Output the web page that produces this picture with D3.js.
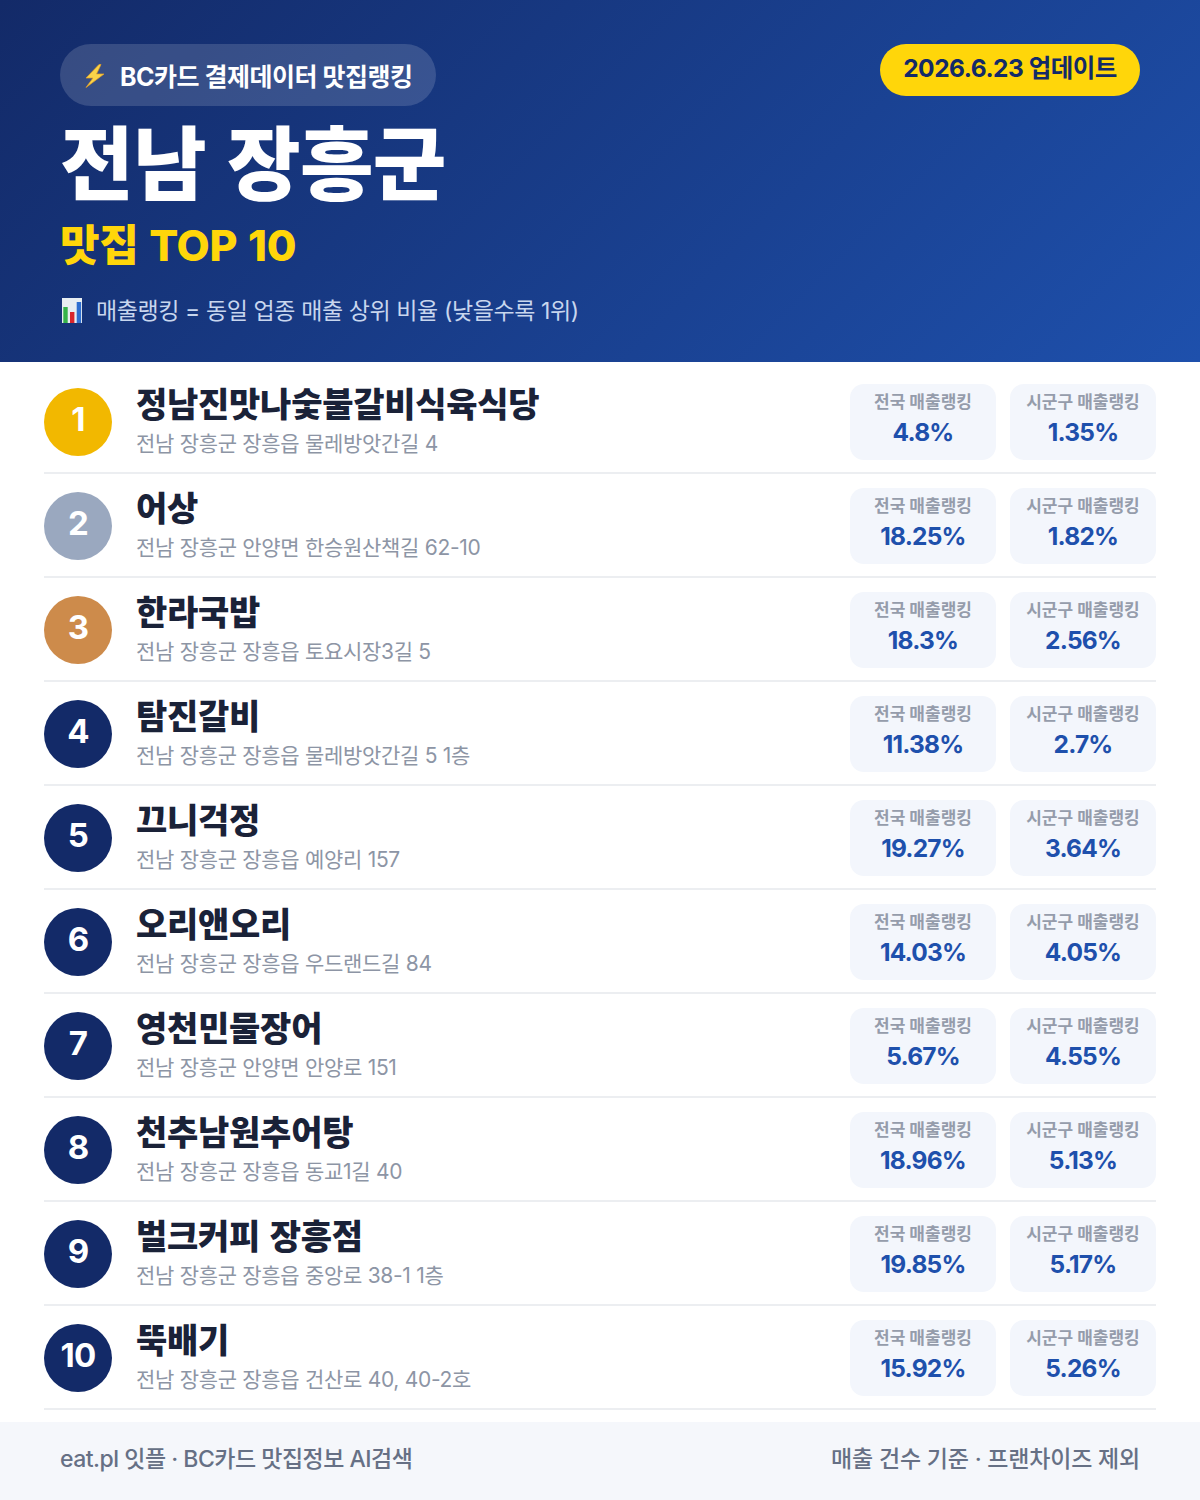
<!DOCTYPE html>
<html lang="ko">
<head>
<meta charset="utf-8">
<style>
html, body { margin: 0; padding: 0; background: #fff; }
svg { display: block; }
text { font-family: Inter, "Noto Sans CJK KR", sans-serif; }
</style>
<script src="https://cdn.jsdelivr.net/npm/d3@7"></script>
</head>
<body>
<svg width="1200" height="1500"></svg>
<script>
var ranks = [1, 2, 3, 4, 5, 6, 7, 8, 9, 10];
var names = ["정남진맛나숯불갈비식육식당", "어상", "한라국밥", "탐진갈비", "끄니걱정", "오리앤오리", "영천민물장어", "천추남원추어탕", "벌크커피 장흥점", "뚝배기"];
var addresses = [
  "전남 장흥군 장흥읍 물레방앗간길 4",
  "전남 장흥군 안양면 한승원산책길 62-10",
  "전남 장흥군 장흥읍 토요시장3길 5",
  "전남 장흥군 장흥읍 물레방앗간길 5 1층",
  "전남 장흥군 장흥읍 예양리 157",
  "전남 장흥군 장흥읍 우드랜드길 84",
  "전남 장흥군 안양면 안양로 151",
  "전남 장흥군 장흥읍 동교1길 40",
  "전남 장흥군 장흥읍 중앙로 38-1 1층",
  "전남 장흥군 장흥읍 건산로 40, 40-2호"
];
var national = [4.8, 18.25, 18.3, 11.38, 19.27, 14.03, 5.67, 18.96, 19.85, 15.92];
var local = [1.35, 1.82, 2.56, 2.7, 3.64, 4.05, 4.55, 5.13, 5.17, 5.26];
var cardLabels = ["전국 매출랭킹", "시군구 매출랭킹"];

var svg = d3.select("svg");

var defs = svg.append("defs");
var grad = defs.append("linearGradient")
  .attr("id", "head")
  .attr("gradientUnits", "userSpaceOnUse")
  .attr("x1", 210).attr("y1", -209)
  .attr("x2", 990).attr("y2", 571);
grad.append("stop").attr("offset", "0%").attr("stop-color", "#132a68");
grad.append("stop").attr("offset", "100%").attr("stop-color", "#1e50ac");

svg.append("rect").attr("width", 1200).attr("height", 362).attr("fill", "url(#head)");

// pill
svg.append("rect")
  .attr("x", 60).attr("y", 44).attr("width", 376).attr("height", 62).attr("rx", 31)
  .attr("fill", "#ffffff").attr("fill-opacity", 0.15);

// lightning icon
svg.append("path")
  .attr("d", "M99,64.5 L86,78 L93,78 L86,87.5 L104,74 L96.5,74 L101,64.5 Z")
  .attr("fill", "#f8d34a").attr("stroke", "#e8a020").attr("stroke-width", 0.7);

function label(x, y, str, size, weight, color, anchor, spacing) {
  return svg.append("text")
    .attr("x", x).attr("y", y)
    .attr("font-size", size)
    .attr("font-weight", weight)
    .attr("fill", color)
    .attr("text-anchor", anchor || "start")
    .attr("letter-spacing", spacing || 0)
    .text(str);
}

label(120, 86, "BC카드 결제데이터 맛집랭킹", 25, 700, "#ffffff", "start", -0.5);
label(60, 193, "전남 장흥군", 80, 900, "#ffffff", "start", -0.7).attr("word-spacing", 6);
label(60, 261, "맛집 TOP 10", 43, 800, "#ffd60a", "start", -0.4).attr("word-spacing", 2);

// bar chart icon
var icon = svg.append("g").attr("transform", "translate(62,298)");
icon.append("rect").attr("width", 20).attr("height", 25).attr("fill", "#e8eef2");
icon.append("rect").attr("x", 1.3).attr("y", 9).attr("width", 4.4).attr("height", 16).attr("fill", "#35b34a");
icon.append("rect").attr("x", 8).attr("y", 14).attr("width", 4.4).attr("height", 11).attr("fill", "#d9262c");
icon.append("rect").attr("x", 14.7).attr("y", 4).attr("width", 4.4).attr("height", 21).attr("fill", "#2f6fd0");

label(96, 319, "매출랭킹 = 동일 업종 매출 상위 비율 (낮을수록 1위)", 23, 400, "#c8d6ee", "start", -0.4);

// update badge
svg.append("rect")
  .attr("x", 880).attr("y", 44).attr("width", 260).attr("height", 52).attr("rx", 26)
  .attr("fill", "#ffd60a");
label(1010, 77, "2026.6.23 업데이트", 24.5, 700, "#132a68", "middle", -0.5);

// rows
var y = d3.scaleBand().domain(ranks).range([370, 1410]);
var circleColor = d3.scaleOrdinal().domain([1, 2, 3]).range(["#f2b800", "#9aa8bf", "#cd8b4b"]).unknown("#132a68");

var rows = svg.selectAll(".row")
  .data(ranks)
  .enter().append("g")
  .attr("class", "row")
  .attr("transform", function (d) { return "translate(0," + y(d) + ")"; });

rows.append("line")
  .attr("x1", 44).attr("x2", 1156)
  .attr("y1", y.bandwidth() - 1).attr("y2", y.bandwidth() - 1)
  .attr("stroke", "#eceef1").attr("stroke-width", 2);

rows.append("circle")
  .attr("cx", 78).attr("cy", 52).attr("r", 34)
  .attr("fill", function (d) { return circleColor(d); });

rows.append("text")
  .attr("x", 78).attr("y", 61)
  .attr("text-anchor", "middle")
  .attr("font-size", 33).attr("font-weight", 700)
  .attr("letter-spacing", -0.8)
  .attr("fill", "#fff")
  .text(function (d) { return d; });

rows.append("text")
  .attr("x", 136).attr("y", 47)
  .attr("font-size", 34).attr("font-weight", 900)
  .attr("letter-spacing", -0.25)
  .attr("word-spacing", 3)
  .attr("fill", "#1a2238")
  .text(function (d, i) { return names[i]; });

rows.append("text")
  .attr("x", 136).attr("y", 81)
  .attr("font-size", 21).attr("font-weight", 400)
  .attr("letter-spacing", -0.3)
  .attr("fill", "#8d95a5")
  .text(function (d, i) { return addresses[i]; });

var cardX = d3.scaleBand().domain([0, 1]).range([850, 1170]);
var cardW = 146;
[national, local].forEach(function (values, c) {
  var cards = rows.append("g").attr("transform", "translate(" + cardX(c) + ",14)");
  cards.append("rect")
    .attr("width", cardW).attr("height", 76).attr("rx", 14)
    .attr("fill", "#f3f6fc");
  cards.append("text")
    .attr("x", cardW / 2).attr("y", 23.5)
    .attr("text-anchor", "middle")
    .attr("font-size", 17).attr("font-weight", 700)
    .attr("fill", "#959cab")
    .text(cardLabels[c]);
  cards.append("text")
    .attr("x", cardW / 2).attr("y", 57)
    .attr("text-anchor", "middle")
    .attr("font-size", 24.5).attr("font-weight", 700)
    .attr("letter-spacing", -0.8)
    .attr("fill", "#1e50ac")
    .text(function (d, i) { return values[i] + "%"; });
});

// footer
svg.append("rect").attr("y", 1422).attr("width", 1200).attr("height", 78).attr("fill", "#f5f7fb");
label(60, 1467, "eat.pl 잇플 · BC카드 맛집정보 AI검색", 23, 500, "#667085", "start", -0.5);
label(1140, 1467, "매출 건수 기준 · 프랜차이즈 제외", 23, 500, "#667085", "end", -0.2);
</script>
</body>
</html>
